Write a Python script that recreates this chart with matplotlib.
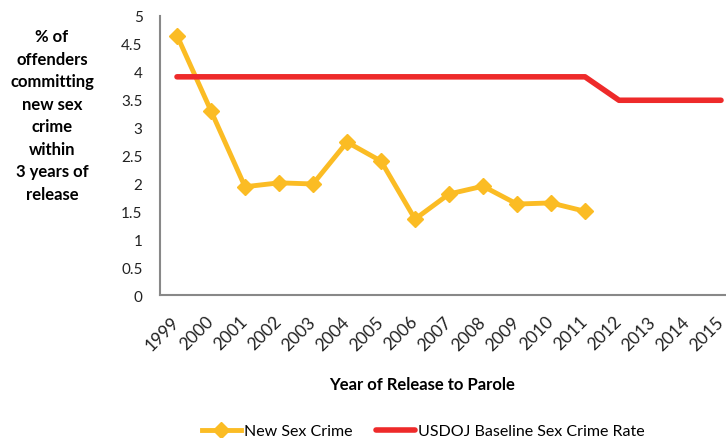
import matplotlib.pyplot as plt

plt.rcParams['font.family'] = ['Lato', 'DejaVu Sans']

years = [str(y) for y in range(1999, 2016)]
new_sex_crime = [4.65, 3.30, 1.94, 2.01, 1.99, 2.74, 2.40, 1.36, 1.81, 1.95, 1.63, 1.65, 1.50]
usdoj_baseline = [3.91] * 13 + [3.49] * 4

fig = plt.figure(figsize=(7.26, 4.39), dpi=100)
ax = fig.add_axes([160 / 726, 1 - 296 / 439, 578 / 726, 279 / 439])

x_all = list(range(len(years)))
ax.plot(x_all[:len(new_sex_crime)], new_sex_crime, color='#FBBC24', lw=3.5,
        marker='D', markersize=8.5, label='New Sex Crime')
ax.plot(x_all, usdoj_baseline, color='#EE2A2A', lw=4, solid_capstyle='round',
        label='USDOJ Baseline Sex Crime Rate')

ax.set_xlim(-0.5, len(years) - 0.5)
ax.set_ylim(0, 5)
ax.set_yticks([0, 0.5, 1, 1.5, 2, 2.5, 3, 3.5, 4, 4.5, 5])
ax.set_yticklabels(['0', '0.5', '1', '1.5', '2', '2.5', '3', '3.5', '4', '4.5', '5'])
ax.set_xticks(x_all)
ax.set_xticklabels(years, rotation=45, ha='right', va='center', rotation_mode='anchor')
ax.tick_params(length=0, labelsize=11, colors='#222222')
ax.tick_params(axis='y', pad=12.5)
ax.tick_params(axis='x', pad=17, labelsize=12.5)

for s in ['top', 'right']:
    ax.spines[s].set_visible(False)
for s in ['left', 'bottom']:
    ax.spines[s].set_color('#888888')
    ax.spines[s].set_linewidth(1.5)

fig.text(52 / 726, 1 - 116 / 439,
         '% of\noffenders\ncommitting\nnew sex\ncrime\nwithin\n3 years of\nrelease',
         ha='center', va='center', fontsize=12, fontweight='bold', linespacing=1.5)
fig.text(422 / 726, 1 - 385 / 439, 'Year of Release to Parole',
         ha='center', va='center', fontsize=12, fontweight='bold')

fig.legend(loc='center', bbox_to_anchor=(423 / 726, 1 - 432 / 439), ncol=2,
           frameon=False, fontsize=11.5, handlelength=2.45, handletextpad=0.2,
           columnspacing=1.45)

fig.savefig('out.png', dpi=100)
